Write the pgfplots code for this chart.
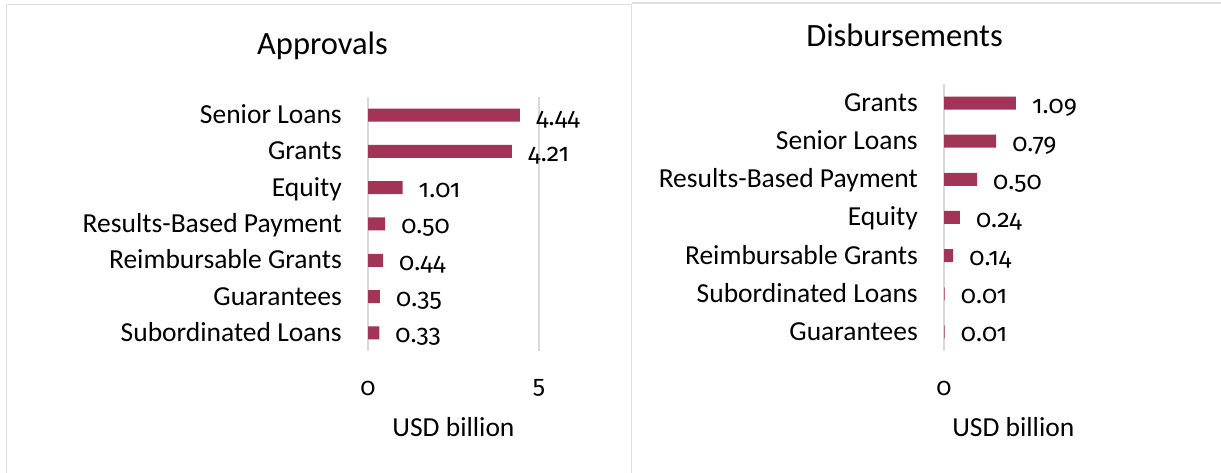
\documentclass[border=0pt]{standalone}
\usepackage{fontspec}
\setmainfont{Carlito}
\newfontfamily\numf{Fira Sans}[Numbers=OldStyle]
\usepackage{pgfplots}
\pgfplotsset{compat=1.18}
\definecolor{barc}{HTML}{A23457}
\definecolor{gridc}{HTML}{D9D9D9}
\definecolor{framec}{HTML}{DEDEDE}
\newcommand{\lf}{\fontsize{27.5}{32}\selectfont}
\newcommand{\nf}{\numf\fontsize{25}{30}\selectfont}
\pgfplotsset{
  panel/.style={
    scale only axis,
    xbar, bar width=13pt,
    ymin=-0.5, ymax=6.5,
    xmin=0,
    enlargelimits=false,
    ytick={0,...,6},
    axis line style={draw=none},
    major tick length=0pt,
    xmajorgrids, grid style={gridc, line width=1.8pt},
    /pgf/number format/assume math mode=true,
    yticklabel style={font=\lf, anchor=east, inner sep=0pt, xshift=-26pt, text height=19pt, text depth=2pt},
    xticklabel style={font=\nf, anchor=center, inner sep=0pt, yshift=-37pt},
    xlabel style={font=\lf, anchor=center, at={(axis description cs:0.5,0)}, yshift=-76pt},
    xlabel={USD billion},
    nodes near coords={\pgfmathprintnumber[fixed,fixed zerofill,precision=2,assume math mode=true]{\pgfplotspointmeta}},
    every node near coord/.append style={font=\nf, anchor=base west, inner sep=0pt, xshift=16pt, yshift=-10pt, text=black},
    clip=false,
  }
}
\begin{document}
\begin{tikzpicture}[x=1pt,y=1pt]
\path[use as bounding box] (0,0) rectangle (1221,473);
\draw[framec, line width=1.5pt] (6.7,-2) -- (6.7,468.3) -- (631.7,468.3) -- (631.7,-2);
\draw[framec, line width=1.5pt] (631.7,470) -- (1223,470);
\node[font=\fontsize{32.5}{38}\selectfont, anchor=base] at (322.5,418) {Approvals};
\node[font=\fontsize{32.5}{38}\selectfont, anchor=base] at (904.5,426.3) {Disbursements};

\begin{axis}[panel,
  at={(368pt,122pt)}, anchor=south west,
  width=171pt, height=254pt,
  xmax=5, xtick={0,5},
  yticklabels={Subordinated Loans,Guarantees,Reimbursable Grants,Results-Based Payment,Equity,Grants,Senior Loans},
]
\addplot[draw=none, fill=barc] coordinates {
(0.33,0) (0.35,1) (0.44,2) (0.50,3) (1.01,4) (4.21,5) (4.44,6)
};
\end{axis}

\begin{axis}[panel,
  at={(944pt,122pt)}, anchor=south west,
  width=138.6pt, height=267pt,
  xmax=2.1, xtick={0},
  yticklabels={Guarantees,Subordinated Loans,Reimbursable Grants,Equity,Results-Based Payment,Senior Loans,Grants},
]
\addplot[draw=none, fill=barc] coordinates {
(0.01,0) (0.01,1) (0.14,2) (0.24,3) (0.50,4) (0.79,5) (1.09,6)
};
\end{axis}
\end{tikzpicture}
\end{document}
